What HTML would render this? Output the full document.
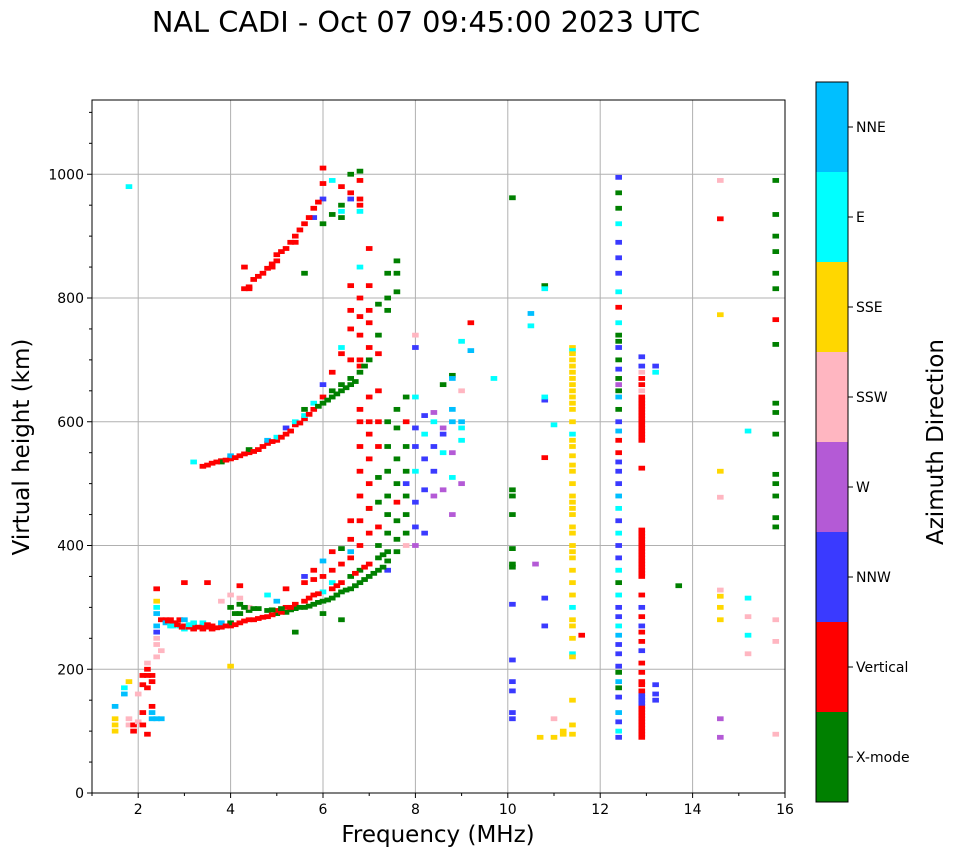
<!DOCTYPE html>
<html><head><meta charset="utf-8"><style>
body{margin:0;background:#fff;}
svg text{font-family:"DejaVu Sans","Liberation Sans",sans-serif;fill:#000;}
</style></head><body>
<svg id="chart" width="958" height="857" xmlns="http://www.w3.org/2000/svg">
<text x="426" y="32" font-size="28.8" text-anchor="middle">NAL CADI - Oct 07 09:45:00 2023 UTC</text>
<g id="grid"></g>
<g id="marks"></g>
<rect x="92" y="100" width="693" height="693" fill="none" stroke="#000" stroke-width="1"/>
<g id="axes"></g>
<text x="438" y="842" font-size="23" text-anchor="middle">Frequency (MHz)</text>
<text transform="translate(29,447) rotate(-90)" font-size="23" text-anchor="middle">Virtual height (km)</text>
<g id="cbar"></g>
<text transform="translate(943,442) rotate(-90)" font-size="23" text-anchor="middle">Azimuth Direction</text>
</svg>
<script>
const azimuthNames=["X-mode","Vertical","NNW","W","SSW","SSE","E","NNE"];
const azimuthColors=["#008000","#ff0000","#3a3aff","#b45ad6","#ffb6c1","#ffd700","#00ffff","#00bfff"];
const xTicks=[2,4,6,8,10,12,14,16];
const yTicks=[0,200,400,600,800,1000];
const freq=[];const height=[];const azimuth=[];
const groups=[
[1.5,[[100,5],[110,5],[120,5],[140,7]]],[1.7,[[160,7],[170,6]]],[1.8,[[120,4],[110,4],[180,5],[980,6]]],[1.9,[[110,1],[100,1]]],[2.0,[[115,4],[160,4]]],
[2.1,[[110,1],[130,1],[175,1],[190,1]]],[2.2,[[190,1],[200,1],[210,4],[170,1],[95,1]]],[2.3,[[180,1],[190,1],[140,1],[120,7],[130,7]]],
[2.4,[[120,7],[220,4],[250,4],[270,7],[290,7],[310,5],[330,1],[300,6],[260,2],[240,4]]],[2.5,[[120,7],[280,1],[230,4]]],[2.6,[[280,1],[275,7]]],
[2.7,[[280,1],[270,6]]],[2.8,[[275,1]]],[2.9,[[270,6],[280,1]]],[3.0,[[270,1],[265,6],[280,7],[340,1]]],[3.2,[[270,1],[275,6],[265,1],[535,6]]],
[3.4,[[270,1],[265,1],[275,6],[528,1]]],[3.5,[[530,1],[340,1]]],[3.6,[[270,1],[265,1],[533,1]]],[3.8,[[268,1],[275,7],[310,4],[537,1],[535,0]]],
[4.0,[[270,1],[275,0],[300,0],[320,4],[540,1],[545,7],[205,5]]],[4.2,[[275,1],[290,0],[305,0],[315,4],[335,1],[545,1]]],
[4.3,[[815,1],[850,1]]],[4.4,[[280,1],[295,0],[300,4],[550,1],[555,0],[815,1]]],[4.5,[[830,1]]],[4.6,[[282,1],[298,0],[555,1]]],[4.7,[[840,1]]],
[4.8,[[285,1],[295,0],[320,6],[565,1],[570,7]]],[4.9,[[855,1],[850,1]]],[5.0,[[290,0],[295,1],[310,7],[570,1],[575,6],[860,1],[870,1]]],
[5.2,[[292,0],[300,1],[330,1],[580,1],[590,2],[880,1]]],[5.4,[[298,0],[305,1],[260,0],[595,1],[600,6],[900,1],[890,1]]],[5.5,[[910,1]]],
[5.6,[[300,0],[310,1],[340,1],[350,2],[605,1],[620,0],[610,6],[920,1],[840,0]]],[5.8,[[305,0],[320,1],[345,1],[360,1],[620,1],[630,6],[945,1],[930,2]]],
[6.0,[[310,0],[325,6],[350,1],[375,7],[290,0],[630,0],[640,1],[660,2],[920,0],[985,1],[1010,1],[960,2]]],
[6.2,[[315,0],[330,1],[360,1],[390,1],[340,6],[640,0],[650,0],[680,1],[935,0],[990,6]]],
[6.4,[[325,0],[340,1],[370,1],[395,0],[280,0],[650,0],[660,0],[710,1],[720,6],[950,0],[940,6],[930,0],[980,1]]],
[6.6,[[330,0],[350,0],[380,1],[410,1],[440,1],[390,7],[660,0],[670,0],[700,1],[750,1],[780,1],[820,1],[970,1],[1000,0],[960,2]]],
[6.8,[[340,0],[360,0],[400,1],[440,1],[480,1],[520,1],[560,1],[600,1],[620,1],[680,0],[690,1],[700,1],[740,1],[770,1],[800,1],[850,6],[990,1],[960,1],[950,1],[940,6],[1005,0]]],
[7.0,[[350,0],[370,1],[420,1],[460,0],[500,1],[540,1],[580,1],[600,1],[640,1],[460,1],[700,0],[720,1],[760,1],[780,1],[820,1],[880,1]]],
[7.2,[[360,0],[380,0],[400,0],[430,1],[470,0],[510,0],[560,1],[600,1],[650,1],[740,0],[790,0],[710,1]]],
[7.4,[[375,0],[390,0],[420,0],[450,0],[480,0],[520,0],[560,0],[600,0],[360,2],[780,0],[800,0],[840,0]]],
[7.6,[[390,0],[410,0],[440,0],[470,1],[500,0],[540,0],[590,0],[620,0],[810,0],[840,0],[860,0]]],
[7.8,[[420,0],[450,0],[480,0],[520,0],[560,0],[600,1],[640,0],[400,4],[500,2]]],
[8.0,[[400,3],[430,2],[470,2],[520,6],[560,2],[590,2],[640,6],[720,2],[740,4]]],[8.2,[[420,2],[490,2],[540,2],[580,6],[610,2]]],
[8.4,[[480,3],[520,2],[560,2],[600,6],[615,3]]],[8.6,[[490,3],[550,6],[590,3],[580,2],[660,0]]],
[8.8,[[450,3],[510,6],[550,3],[600,7],[620,7],[675,0],[670,7]]],[9.0,[[500,3],[570,6],[590,6],[600,7],[650,4],[730,6]]],[9.2,[[760,1],[715,7]]],[9.7,[[670,6]]],
[2.65,[[278,1]]],[2.75,[[275,1],[270,6]]],[2.85,[[272,1]]],[2.95,[[268,1]]],[3.1,[[268,1],[272,6]]],[3.3,[[268,1]]],[3.5,[[268,1],[272,1]]],[3.7,[[267,1],[535,1]]],[3.9,[[270,1],[538,1]]],
[4.1,[[272,1],[290,0],[542,1]]],[4.3,[[278,1],[300,0],[548,1]]],[4.5,[[280,1],[298,0],[552,1]]],[4.7,[[284,1],[560,1]]],[4.9,[[288,1],[296,0],[568,1]]],
[5.1,[[292,1],[298,0],[575,1],[875,1]]],[5.3,[[296,0],[300,1],[585,1],[890,1]]],[5.5,[[300,0],[598,1]]],[5.7,[[302,0],[315,1],[612,1],[930,1]]],[5.9,[[308,0],[322,1],[625,0],[955,1]]],
[6.1,[[312,0],[635,0]]],[6.3,[[320,0],[335,1],[645,0]]],[6.5,[[328,0],[655,0]]],[6.7,[[335,0],[355,1],[665,0]]],[6.9,[[345,0],[365,1],[690,0]]],[7.1,[[355,0]]],[7.3,[[365,0],[385,0]]],
[4.4,[[818,1]]],[4.6,[[835,1]]],[4.8,[[848,1]]],
[10.1,[[962,0],[490,0],[480,0],[450,0],[395,0],[370,0],[365,0],[305,2],[215,2],[180,2],[165,2],[130,2],[120,2]]],
[10.5,[[775,7],[755,6]]],[10.6,[[370,3]]],[10.7,[[90,5]]],[10.8,[[820,0],[815,6],[635,2],[640,6],[542,1],[315,2],[270,2]]],
[11.0,[[595,6],[120,4],[90,5]]],[11.2,[[95,5],[100,5]]],
[11.4,[[720,5],[715,6],[710,5],[700,5],[690,5],[680,5],[670,5],[660,5],[650,5],[640,5],[630,5],[620,5],[600,5],[580,6],[570,5],[560,5],[545,5],[530,5],[520,5],[500,5],[480,5],[470,5],[460,5],[450,5],[430,5],[420,5],[400,5],[390,5],[380,5],[360,5],[340,5],[320,5],[300,6],[280,5],[270,5],[250,5],[225,6],[220,5],[150,5],[110,5],[95,5]]],
[11.6,[[255,1]]],
[12.4,[[995,2],[970,0],[945,0],[920,6],[890,2],[865,2],[840,2],[810,6],[785,1],[760,6],[740,0],[730,0],[720,2],[700,0],[685,2],[670,0],[660,3],[650,0],[640,7],[620,0],[600,2],[585,7],[570,1],[550,1],[535,2],[520,2],[500,2],[480,7],[460,6],[440,2],[420,6],[400,2],[380,2],[360,6],[340,0],[320,6],[300,2],[285,2],[270,6],[255,7],[240,2],[225,2],[205,2],[195,0],[180,7],[170,0],[155,2],[130,7],[115,2],[100,6],[90,2]]],
[12.9,[[705,2],[690,2],[680,4],[670,1],[660,1],[650,4],[640,1],[630,1],[620,1],[610,1],[600,1],[590,1],[580,1],[570,1],[525,1],[425,1],[420,1],[410,1],[400,1],[390,1],[380,1],[370,1],[360,1],[350,1],[320,1],[300,2],[285,1],[270,2],[260,1],[245,1],[230,2],[210,1],[195,1],[180,1],[160,2],[150,2],[140,1],[130,1],[120,1],[110,1],[100,1],[90,1],
 [95,1],[105,1],[115,1],[125,1],[135,1],[145,2],[155,2],[165,1],[175,1],[355,1],[365,1],[375,1],[385,1],[395,1],[405,1],[415,1],[575,1],[585,1],[595,1],[605,1],[615,1],[625,1],[635,1]]],
[13.2,[[690,2],[680,6],[175,2],[160,2],[150,2]]],[13.7,[[335,0]]],
[14.6,[[990,4],[928,1],[773,5],[520,5],[478,4],[328,4],[318,5],[300,5],[280,5],[120,3],[90,3]]],
[15.2,[[585,6],[315,6],[285,4],[255,6],[225,4]]],
[15.8,[[990,0],[935,0],[900,0],[875,0],[840,0],[815,0],[765,1],[725,0],[630,0],[615,0],[580,0],[515,0],[500,0],[480,0],[445,0],[430,0],[280,4],[245,4],[95,4]]]
];
groups.forEach(g=>g[1].forEach(p=>{freq.push(g[0]);height.push(p[0]);azimuth.push(p[1]);}));
const NS="http://www.w3.org/2000/svg";
const X0=92,X1=785,Y0=793,Y1=100;
const xs=f=>X0+(f-1)*(X1-X0)/15;
const ys=h=>Y0-h*(Y0-Y1)/1120;
function mk(tag,attrs,parent){const e=document.createElementNS(NS,tag);for(const k in attrs)e.setAttribute(k,attrs[k]);parent.appendChild(e);return e;}
const grid=document.getElementById('grid'),axes=document.getElementById('axes'),marks=document.getElementById('marks'),cbar=document.getElementById('cbar');
xTicks.forEach(t=>{const x=xs(t);
 const l=mk('line',{x1:x,x2:x,y1:Y1,y2:Y0,stroke:'#b0b0b0','stroke-width':1},grid);
 
 
 mk('line',{x1:x,x2:x,y1:Y0,y2:Y0+5,stroke:'#000'},axes);
 const tx=mk('text',{x:x,y:Y0+21,'font-size':14,'text-anchor':'middle'},axes);tx.textContent=t;
 
 
});
for(let m=1;m<16;m+=2){const x=xs(m);mk('line',{x1:x,x2:x,y1:Y0,y2:Y0+3,stroke:'#000'},axes);}
yTicks.forEach(t=>{const y=ys(t);
 const l=mk('line',{x1:X0,x2:X1,y1:y,y2:y,stroke:'#b0b0b0','stroke-width':1},grid);
 
 
 mk('line',{x1:X0-5,x2:X0,y1:y,y2:y,stroke:'#000'},axes);
 const tx=mk('text',{x:X0-8,y:y+5,'font-size':14,'text-anchor':'end'},axes);tx.textContent=t;
 
 
});
for(let m=50;m<1120;m+=50){if(m%200===0)continue;const y=ys(m);mk('line',{x1:X0-3,x2:X0,y1:y,y2:y,stroke:'#000'},axes);}
for(let i=0;i<freq.length;i++){
 const r=mk('rect',{x:xs(freq[i])-3.3,y:ys(height[i])-2.4,width:6.6,height:4.8,fill:azimuthColors[azimuth[i]]},marks);
 
 
}
const CB0=82,CBH=720,bh=CBH/8;
azimuthNames.forEach((n,i)=>{const y=CB0+CBH-(i+1)*bh;
 const r=mk('rect',{x:816,y:y,width:32,height:bh,fill:azimuthColors[i]},cbar);
 
 
 mk('line',{x1:848,x2:853,y1:y+bh/2,y2:y+bh/2,stroke:'#000'},cbar);
 const t=mk('text',{x:856,y:y+bh/2+5,'font-size':14},cbar);t.textContent=n;
 
 
});
mk('rect',{x:816,y:CB0,width:32,height:CBH,fill:'none',stroke:'#000'},cbar);
</script>
</body></html>
